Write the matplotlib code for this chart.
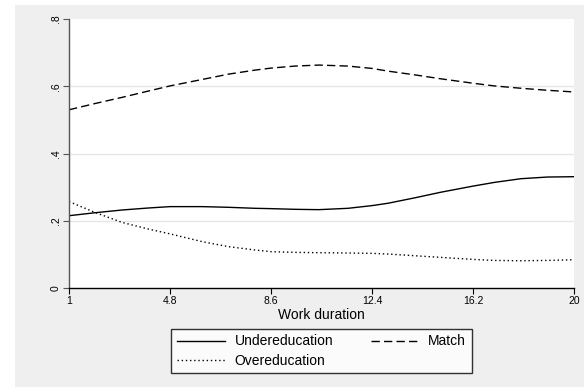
import matplotlib
matplotlib.use("Agg")
import matplotlib.pyplot as plt
from matplotlib.patches import Rectangle

plt.rcParams["font.family"] = ["Liberation Sans", "DejaVu Sans"]

# Work duration (years) and predicted shares by education-job match status
duration = [1, 2, 3, 4, 4.8, 6, 7, 8, 8.6, 9.5, 10.4, 11.5, 12.4, 13, 14, 15, 16.2, 17, 18, 19, 20]
under = [0.215, 0.224, 0.232, 0.238, 0.242, 0.242, 0.240, 0.237, 0.236, 0.234, 0.233,
         0.237, 0.245, 0.252, 0.268, 0.285, 0.303, 0.314, 0.325, 0.330, 0.331]
match = [0.530, 0.549, 0.567, 0.586, 0.601, 0.620, 0.636, 0.648, 0.654, 0.660, 0.663,
         0.660, 0.653, 0.645, 0.634, 0.622, 0.609, 0.601, 0.594, 0.588, 0.583]
over = [0.257, 0.224, 0.195, 0.175, 0.161, 0.138, 0.123, 0.113, 0.108, 0.106, 0.105,
        0.104, 0.103, 0.101, 0.096, 0.091, 0.085, 0.082, 0.081, 0.082, 0.084]

xticks = [1, 4.8, 8.6, 12.4, 16.2, 20]
xtick_labels = ["1", "4.8", "8.6", "12.4", "16.2", "20"]
yticks = [0, 0.2, 0.4, 0.6, 0.8]
ytick_labels = ["0", ".2", ".4", ".6", ".8"]

W, H = 584, 387
fig = plt.figure(figsize=(W / 100, H / 100), dpi=100)
fig.patch.set_facecolor("white")

# light gray graph region behind the plot
bg = Rectangle((15 / W, 0), (W - 15) / W, (H - 5) / H,
               transform=fig.transFigure, facecolor="#efefef",
               edgecolor="none", zorder=-10)
fig.add_artist(bg)

ax = fig.add_axes([69 / W, (H - 288) / H, (574 - 69) / W, (288 - 19) / H])
ax.set_facecolor("white")

h_under, = ax.plot(duration, under, color="black", lw=1.0, ls="-", label="Undereducation")
h_match, = ax.plot(duration, match, color="black", lw=1.0, ls=(0, (6, 3)), label="Match")
h_over, = ax.plot(duration, over, color="black", lw=1.0, ls=(0, (1, 2)), label="Overeducation")

ax.set_xlim(1, 20)
ax.set_ylim(0, 0.8)
ax.set_xticks(xticks)
ax.set_xticklabels(xtick_labels, fontsize=7.5)
ax.set_yticks(yticks)
ax.set_yticklabels(ytick_labels, fontsize=7.5, rotation=90, va="center")
ax.tick_params(axis="both", direction="out", length=4, width=0.8, pad=2, colors="black")
ax.tick_params(axis="y", color="#555555")

for y in [0.2, 0.4, 0.6]:
    ax.axhline(y, color="#e6e6e6", lw=1.0, zorder=0)

for side in ["top", "right"]:
    ax.spines[side].set_visible(False)
ax.spines["left"].set_color("#555555")
ax.spines["left"].set_linewidth(1.0)
ax.spines["bottom"].set_color("black")
ax.spines["bottom"].set_linewidth(1.0)

ax.set_xlabel("Work duration", fontsize=10, labelpad=1)

# legend rows: Undereducation | Match, then Overeducation
leg = ax.legend([h_under, h_over, h_match],
                ["Undereducation", "Overeducation", "Match"],
                loc="upper center", bbox_to_anchor=(0.5, -0.152), ncol=2,
                fontsize=10, frameon=True, fancybox=False, handlelength=3.5,
                handletextpad=0.65, columnspacing=2.7, borderpad=0.4,
                labelspacing=0.37, borderaxespad=0)
leg.get_frame().set_edgecolor("black")
leg.get_frame().set_linewidth(1.0)
leg.get_frame().set_facecolor("white")

fig.savefig("out.png", dpi=100, facecolor=fig.get_facecolor())
